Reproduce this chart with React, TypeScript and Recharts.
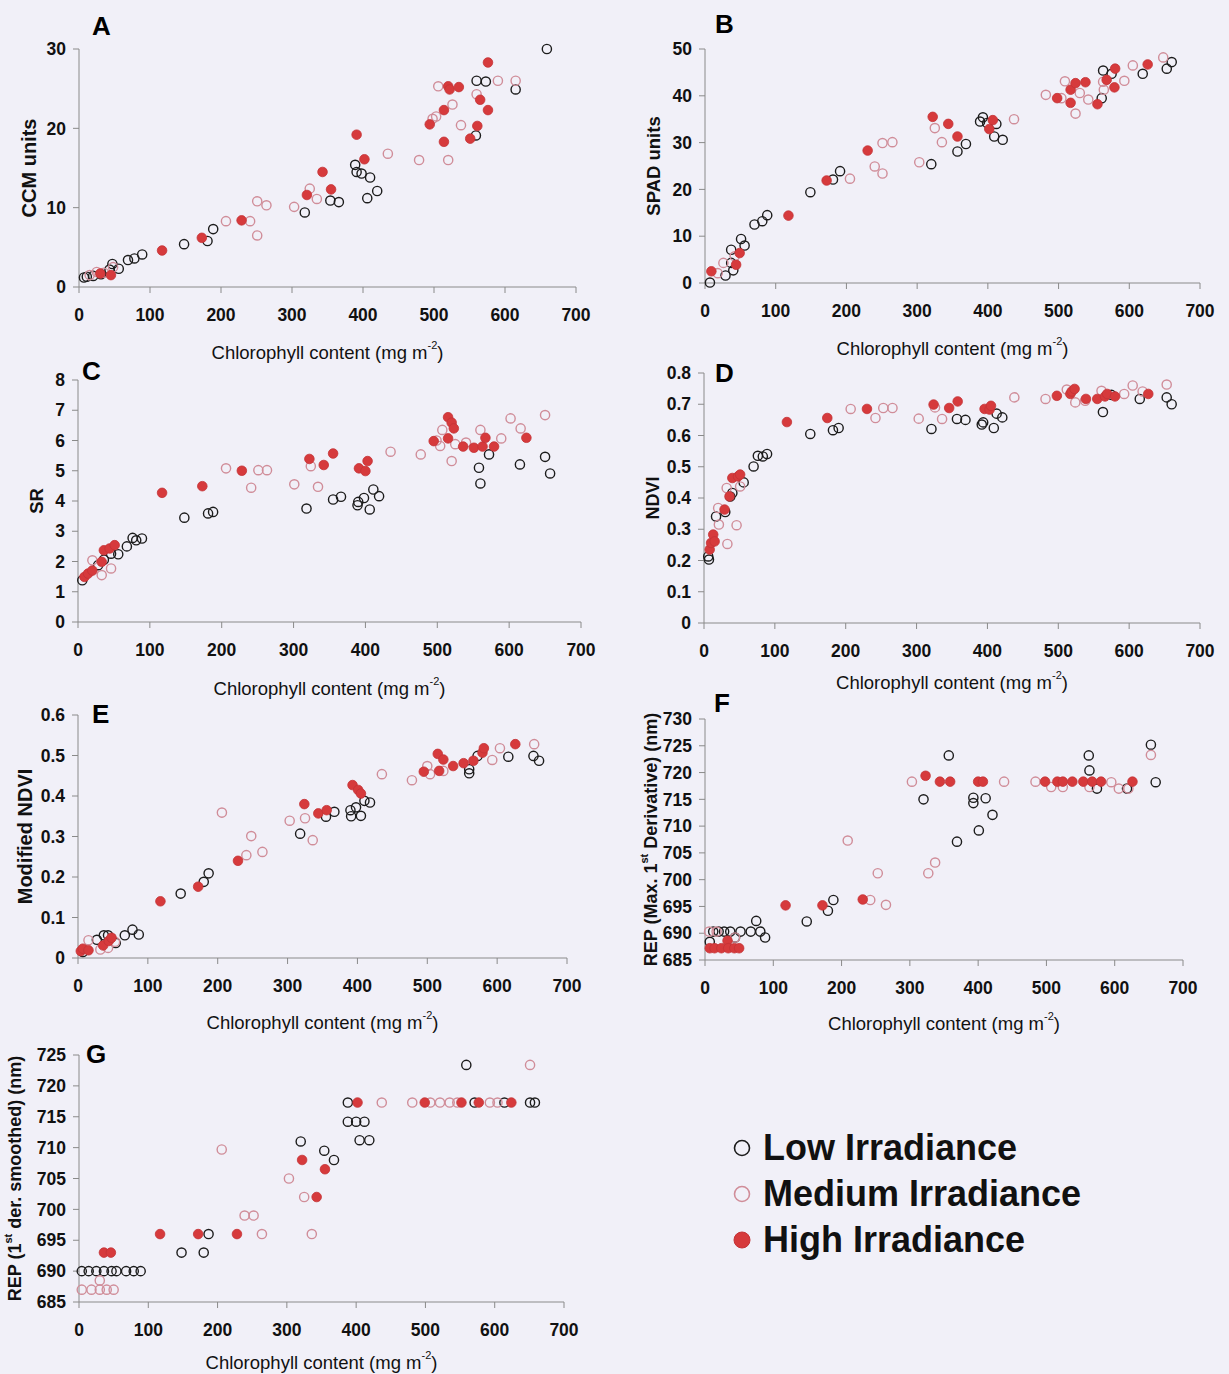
import { ScatterChart, Scatter, XAxis, YAxis } from "recharts";

type Pt = [number, number];

const FONT = '"Liberation Sans", Arial, Helvetica, sans-serif';
const PAGE_BG = "#f1f0f8";
const AXIS = "#8a8a8a";

const chlTicks = [0, 100, 200, 300, 400, 500, 600, 700];

// --- A: CCM units
const ccmTicks = [0, 10, 20, 30];
const ccmLow: Pt[] = [[7,1.2],[11,1.3],[20,1.4],[31,1.6],[43,2.2],[47,2.9],[56,2.3],[69,3.4],[78,3.6],[89,4.1],[148,5.4],[181,5.8],[189,7.3],[318,9.4],[354,10.9],[366,10.7],[389,15.4],[391,14.5],[398,14.3],[410,13.8],[406,11.2],[420,12.1],[559,19.1],[560,26.0],[573,25.9],[615,24.9],[659,30]];
const ccmMed: Pt[] = [[15,1.5],[25,1.9],[35,1.8],[48,2.5],[207,8.3],[241,8.3],[251,10.8],[264,10.3],[251,6.5],[303,10.1],[325,12.4],[335,11.1],[435,16.8],[479,16],[498,21.2],[503,21.5],[506,25.3],[520,16],[526,23],[538,20.4],[560,24.3],[590,26],[615,26]];
const ccmHigh: Pt[] = [[30,1.7],[45,1.5],[117,4.6],[173,6.2],[229,8.4],[321,11.6],[343,14.5],[355,12.3],[391,19.2],[402,16.1],[494,20.5],[514,22.3],[514,18.3],[520,25.3],[522,24.9],[535,25.2],[551,18.7],[561,20.3],[565,23.6],[576,28.3],[576,22.3]];

// --- B: SPAD units
const spadTicks = [0, 10, 20, 30, 40, 50];
const spadLow: Pt[] = [[7,0.1],[29,1.6],[40,2.7],[37,4.3],[37,7.1],[51,9.4],[56,8.0],[70,12.5],[81,13.2],[88,14.5],[149,19.4],[181,22.1],[191,23.9],[320,25.4],[357,28.1],[369,29.7],[389,34.5],[393,35.4],[399,34.2],[412,34],[409,31.3],[421,30.6],[561,39.5],[563,45.4],[575,44.7],[619,44.7],[653,45.8],[660,47.2]];
const spadMed: Pt[] = [[18,2.1],[26,4.3],[42,5.7],[205,22.3],[240,24.9],[251,23.4],[251,29.9],[265,30.1],[303,25.8],[325,33.1],[335,30.1],[437,35],[482,40.2],[504,39.5],[509,43.1],[524,36.2],[530,40.6],[542,39.2],[563,43],[564,41.3],[593,43.2],[605,46.5],[648,48.2]];
const spadHigh: Pt[] = [[9,2.5],[44,3.9],[49,6.4],[118,14.4],[172,21.9],[230,28.3],[322,35.5],[344,34],[357,31.3],[402,32.9],[407,34.8],[498,39.5],[517,41.3],[517,38.5],[524,42.7],[538,42.9],[555,38.2],[568,43.4],[579,41.8],[580,45.8],[626,46.7]];

// --- C: SR
const srTicks = [0, 1, 2, 3, 4, 5, 6, 7, 8];
const srLow: Pt[] = [[6,1.38],[28,1.88],[36,2.06],[46,2.26],[56,2.24],[68,2.5],[76,2.78],[81,2.7],[89,2.76],[148,3.45],[181,3.59],[188,3.64],[318,3.75],[355,4.05],[366,4.14],[389,3.86],[390,3.97],[398,4.1],[406,3.72],[411,4.38],[419,4.16],[558,5.1],[560,4.58],[572,5.54],[615,5.21],[650,5.46],[657,4.91]];
const srMed: Pt[] = [[20,2.04],[33,1.55],[46,1.77],[206,5.08],[241,4.44],[251,5.02],[263,5.02],[301,4.55],[324,5.15],[334,4.47],[435,5.63],[477,5.54],[499,6.0],[504,5.82],[507,6.35],[520,5.32],[525,5.88],[540,5.93],[560,6.35],[589,6.07],[602,6.73],[616,6.4],[650,6.84]];
const srHigh: Pt[] = [[9,1.49],[14,1.6],[20,1.7],[33,1.99],[36,2.37],[44,2.43],[51,2.54],[117,4.27],[173,4.49],[228,5.0],[322,5.39],[342,5.19],[355,5.57],[391,5.08],[400,4.99],[403,5.32],[495,5.98],[515,6.07],[515,6.77],[520,6.59],[523,6.4],[536,5.8],[551,5.76],[563,5.8],[567,6.09],[579,5.8],[624,6.09]];

// --- D: NDVI
const ndviTicks = [0, 0.1, 0.2, 0.3, 0.4, 0.5, 0.6, 0.7, 0.8];
const ndviLow: Pt[] = [[6,0.213],[7,0.203],[17,0.341],[30,0.355],[37,0.405],[40,0.416],[56,0.45],[70,0.501],[76,0.535],[83,0.533],[89,0.541],[150,0.605],[182,0.617],[190,0.624],[321,0.621],[357,0.653],[369,0.65],[392,0.635],[394,0.642],[409,0.624],[413,0.67],[421,0.658],[563,0.675],[575,0.73],[615,0.717],[653,0.722],[660,0.7]];
const ndviMed: Pt[] = [[20,0.368],[21,0.315],[32,0.432],[33,0.253],[46,0.313],[51,0.437],[207,0.685],[242,0.656],[253,0.688],[266,0.688],[303,0.654],[326,0.69],[336,0.653],[438,0.722],[482,0.717],[512,0.747],[524,0.706],[538,0.711],[561,0.743],[593,0.733],[605,0.76],[619,0.741],[653,0.763]];
const ndviHigh: Pt[] = [[8,0.235],[10,0.256],[13,0.283],[15,0.261],[29,0.363],[36,0.405],[40,0.464],[48,0.469],[51,0.475],[117,0.643],[174,0.656],[230,0.685],[324,0.699],[346,0.688],[358,0.709],[396,0.685],[403,0.683],[405,0.695],[498,0.727],[517,0.733],[519,0.741],[523,0.749],[539,0.717],[555,0.717],[566,0.725],[569,0.733],[580,0.725],[627,0.733]];

// --- E: Modified NDVI
const mndviTicks = [0, 0.1, 0.2, 0.3, 0.4, 0.5, 0.6];
const mndviLow: Pt[] = [[7,0.015],[27,0.045],[37,0.056],[43,0.056],[54,0.037],[67,0.056],[78,0.07],[87,0.058],[147,0.159],[180,0.188],[187,0.209],[318,0.307],[355,0.349],[367,0.361],[390,0.365],[391,0.35],[398,0.372],[405,0.351],[410,0.388],[418,0.384],[560,0.456],[560,0.466],[572,0.499],[616,0.497],[652,0.499],[660,0.487]];
const mndviMed: Pt[] = [[15,0.044],[32,0.021],[43,0.025],[53,0.04],[206,0.359],[241,0.254],[248,0.301],[264,0.262],[303,0.339],[325,0.345],[336,0.291],[435,0.454],[478,0.439],[500,0.474],[504,0.454],[523,0.462],[593,0.489],[604,0.518],[653,0.528]];
const mndviHigh: Pt[] = [[4,0.017],[7,0.023],[15,0.019],[36,0.031],[44,0.042],[48,0.05],[118,0.14],[172,0.176],[229,0.24],[324,0.38],[344,0.357],[356,0.365],[393,0.427],[401,0.415],[405,0.406],[495,0.46],[515,0.504],[517,0.462],[523,0.49],[537,0.474],[552,0.481],[566,0.487],[579,0.507],[581,0.518],[626,0.528]];

// --- F: REP, max. first derivative
const repTicks = [685, 690, 695, 700, 705, 710, 715, 720, 725, 730];
const repLow: Pt[] = [[7,688.4],[12,690.3],[20,690.3],[28,690.3],[37,690.3],[44,689.2],[52,690.3],[67,690.3],[75,692.3],[81,690.3],[88,689.2],[149,692.2],[180,694.2],[188,696.2],[320,715],[357,723.2],[369,707.1],[393,715.3],[393,714.3],[401,709.2],[411,715.2],[421,712.1],[562,723.2],[563,720.4],[574,717],[618,717],[653,725.2],[660,718.2]];
const repMed: Pt[] = [[6,690.3],[17,690.3],[44,689.2],[209,707.3],[242,696.2],[253,701.2],[265,695.3],[303,718.3],[327,701.2],[337,703.2],[438,718.3],[484,718.3],[507,717.3],[524,717.3],[563,717.3],[595,718.2],[606,717],[620,717],[653,723.3]];
const repHigh: Pt[] = [[7,687.2],[14,687.2],[24,687.2],[33,688.6],[34,687.2],[43,687.2],[50,687.2],[118,695.2],[172,695.2],[231,696.3],[323,719.4],[344,718.3],[359,718.3],[400,718.3],[407,718.3],[498,718.3],[516,718.3],[524,718.3],[538,718.3],[554,718.3],[567,718.3],[580,718.3],[626,718.3]];

// --- G: REP, smoothed first derivative
const rep2Ticks = [685, 690, 695, 700, 705, 710, 715, 720, 725];
const rep2Low: Pt[] = [[4,690],[14,690],[25,690],[36,690],[47,690],[54,690],[68,690],[79,690],[89,690],[148,693],[180,693],[187,696],[320,711],[354,709.5],[368,708],[388,717.3],[388,714.2],[400,714.2],[412,714.2],[405,711.2],[419,711.2],[559,723.4],[571,717.3],[614,717.3],[651,717.3],[658,717.3]];
const rep2Med: Pt[] = [[4,687],[18,687],[30,688.5],[30,687],[40,687],[50,687],[206,709.7],[239,699],[252,699],[264,696],[303,705],[325,702],[336,696],[437,717.3],[481,717.3],[507,717.3],[521,717.3],[535,717.3],[546,717.3],[593,717.3],[604,717.3],[651,723.4]];
const rep2High: Pt[] = [[36,693],[46,693],[117,696],[172,696],[228,696],[322,708],[343,702],[355,706.5],[402,717.3],[499,717.3],[552,717.3],[577,717.3],[624,717.3]];

const legendNames = ["Low Irradiance", "Medium Irradiance", "High Irradiance"];

const rows = (pts: Pt[]) => pts.map(([x, y]) => ({ x, y }));

const lowDot = (p: any) => (
  <circle cx={p.cx} cy={p.cy} r={4.6} fill="none" stroke="#1c1c1c" strokeWidth={1.4} />
);
const medDot = (p: any) => (
  <circle cx={p.cx} cy={p.cy} r={4.6} fill="none" stroke="#d08d99" strokeWidth={1.4} />
);
const highDot = (p: any) => (
  <circle cx={p.cx} cy={p.cy} r={4.8} fill="#d63a3c" stroke="#c43236" strokeWidth={0.8} />
);

type PanelCfg = {
  letter: string;
  px0: number; px1: number; pyTop: number; pyBot: number;
  domain: [number, number];
  ticks: number[];
  yTitle: React.ReactNode;
  yTitleSize: number;
  yTitleDx: number;
  xTitleDy: number;
  letterDx: number;
  letterDy: number;
  low: Pt[]; med: Pt[]; high: Pt[];
};

const st = (
  <tspan fontSize={11} dy={-7}>st</tspan>
);

const panels: PanelCfg[] = [
  { letter: "A", px0: 79, px1: 576, pyTop: 49, pyBot: 287, domain: [0, 30], ticks: ccmTicks,
    yTitle: "CCM units", yTitleSize: 20, yTitleDx: -50, xTitleDy: 65, letterDx: 13, letterDy: -14,
    low: ccmLow, med: ccmMed, high: ccmHigh },
  { letter: "B", px0: 705, px1: 1200, pyTop: 49, pyBot: 283, domain: [0, 50], ticks: spadTicks,
    yTitle: "SPAD units", yTitleSize: 18.5, yTitleDx: -52, xTitleDy: 65, letterDx: 10, letterDy: -16,
    low: spadLow, med: spadMed, high: spadHigh },
  { letter: "C", px0: 78, px1: 581, pyTop: 380, pyBot: 622, domain: [0, 8], ticks: srTicks,
    yTitle: "SR", yTitleSize: 18.5, yTitleDx: -42, xTitleDy: 66, letterDx: 4, letterDy: 0,
    low: srLow, med: srMed, high: srHigh },
  { letter: "D", px0: 704, px1: 1200, pyTop: 373, pyBot: 623, domain: [0, 0.8], ticks: ndviTicks,
    yTitle: "NDVI", yTitleSize: 18, yTitleDx: -51, xTitleDy: 59, letterDx: 11, letterDy: 9,
    low: ndviLow, med: ndviMed, high: ndviHigh },
  { letter: "E", px0: 78, px1: 567, pyTop: 715, pyBot: 958, domain: [0, 0.6], ticks: mndviTicks,
    yTitle: "Modified NDVI", yTitleSize: 20, yTitleDx: -53, xTitleDy: 64, letterDx: 14, letterDy: 8,
    low: mndviLow, med: mndviMed, high: mndviHigh },
  { letter: "F", px0: 705, px1: 1183, pyTop: 719, pyBot: 960, domain: [685, 730], ticks: repTicks,
    yTitle: <>REP (Max. 1{st}<tspan dy={7}> Derivative) (nm)</tspan></>, yTitleSize: 18, yTitleDx: -54,
    xTitleDy: 63, letterDx: 9, letterDy: -7,
    low: repLow, med: repMed, high: repHigh },
  { letter: "G", px0: 79, px1: 564, pyTop: 1055, pyBot: 1302, domain: [685, 725], ticks: rep2Ticks,
    yTitle: <>REP (1{st}<tspan dy={7}> der. smoothed) (nm)</tspan></>, yTitleSize: 18, yTitleDx: -64,
    xTitleDy: 60, letterDx: 7, letterDy: 8,
    low: rep2Low, med: rep2Med, high: rep2High },
];

// plot area offsets inside each chart's svg
const PL = 80;
const PT = 40;

function Panel({ cfg }: { cfg: PanelCfg }) {
  const pw = cfg.px1 - cfg.px0;
  const ph = cfg.pyBot - cfg.pyTop;

  const yTitle = () => (
    <g>
      <text
        x={PL + cfg.letterDx} y={PT + cfg.letterDy}
        fontFamily={FONT} fontSize={26} fontWeight={700} fill="#000"
      >
        {cfg.letter}
      </text>
      <text
        transform={`translate(${PL + cfg.yTitleDx},${PT + ph / 2}) rotate(-90)`}
        textAnchor="middle" dominantBaseline="central"
        fontFamily={FONT} fontSize={cfg.yTitleSize} fontWeight={700} fill="#111"
      >
        {cfg.yTitle}
      </text>
    </g>
  );

  const xTitle = () => (
    <text
      x={PL + pw / 2} y={PT + ph + cfg.xTitleDy}
      textAnchor="middle" dominantBaseline="central"
      fontFamily={FONT} fontSize={18.5} fill="#111"
    >
      Chlorophyll content (mg m<tspan fontSize={11} dy={-7}>-2</tspan><tspan dy={7}>)</tspan>
    </text>
  );

  const tick = { fill: "#111", fontSize: 17.5, fontWeight: 700, fontFamily: FONT };

  return (
    <div style={{ position: "absolute", left: cfg.px0 - PL, top: cfg.pyTop - PT }}>
      <ScatterChart width={pw + 100} height={ph + 130} margin={{ top: PT, right: 20, bottom: 0, left: 0 }}>
        <XAxis
          type="number" dataKey="x" domain={[0, 700]} ticks={chlTicks} interval={0} height={90}
          stroke={AXIS} tickLine={{ stroke: AXIS }} tickSize={6} tickMargin={16} tick={tick}
          label={{ content: xTitle }}
        />
        <YAxis
          type="number" dataKey="y" domain={cfg.domain} ticks={cfg.ticks} interval={0} width={PL}
          stroke={AXIS} tickLine={{ stroke: AXIS }} tickSize={6} tickMargin={7} tick={tick}
          label={{ content: yTitle }}
        />
        <Scatter name={legendNames[0]} data={rows(cfg.low)} shape={lowDot} isAnimationActive={false} />
        <Scatter name={legendNames[1]} data={rows(cfg.med)} shape={medDot} isAnimationActive={false} />
        <Scatter name={legendNames[2]} data={rows(cfg.high)} shape={highDot} isAnimationActive={false} />
      </ScatterChart>
    </div>
  );
}

function IrradianceKey() {
  const marks = [
    <circle cx={10} cy={10} r={7.5} fill="none" stroke="#1c1c1c" strokeWidth={1.6} />,
    <circle cx={10} cy={10} r={7.5} fill="none" stroke="#d08d99" strokeWidth={1.6} />,
    <circle cx={10} cy={10} r={8} fill="#d63a3c" stroke="#c43236" strokeWidth={1} />,
  ];
  return (
    <div style={{ position: "absolute", left: 732, top: 1125, fontFamily: FONT }}>
      {legendNames.map((name, i) => (
        <div key={name} style={{ display: "flex", alignItems: "center", height: 46 }}>
          <svg width={20} height={20} style={{ marginRight: 11 }}>{marks[i]}</svg>
          <span style={{ fontSize: 36, fontWeight: 700, color: "#111", lineHeight: "46px" }}>{name}</span>
        </div>
      ))}
    </div>
  );
}

export default function App() {
  return (
    <div
      style={{
        position: "absolute", left: 0, top: 0, width: 1229, height: 1374,
        background: PAGE_BG, overflow: "hidden",
      }}
    >
      {panels.map((p) => (
        <Panel key={p.letter} cfg={p} />
      ))}
      <IrradianceKey />
    </div>
  );
}
